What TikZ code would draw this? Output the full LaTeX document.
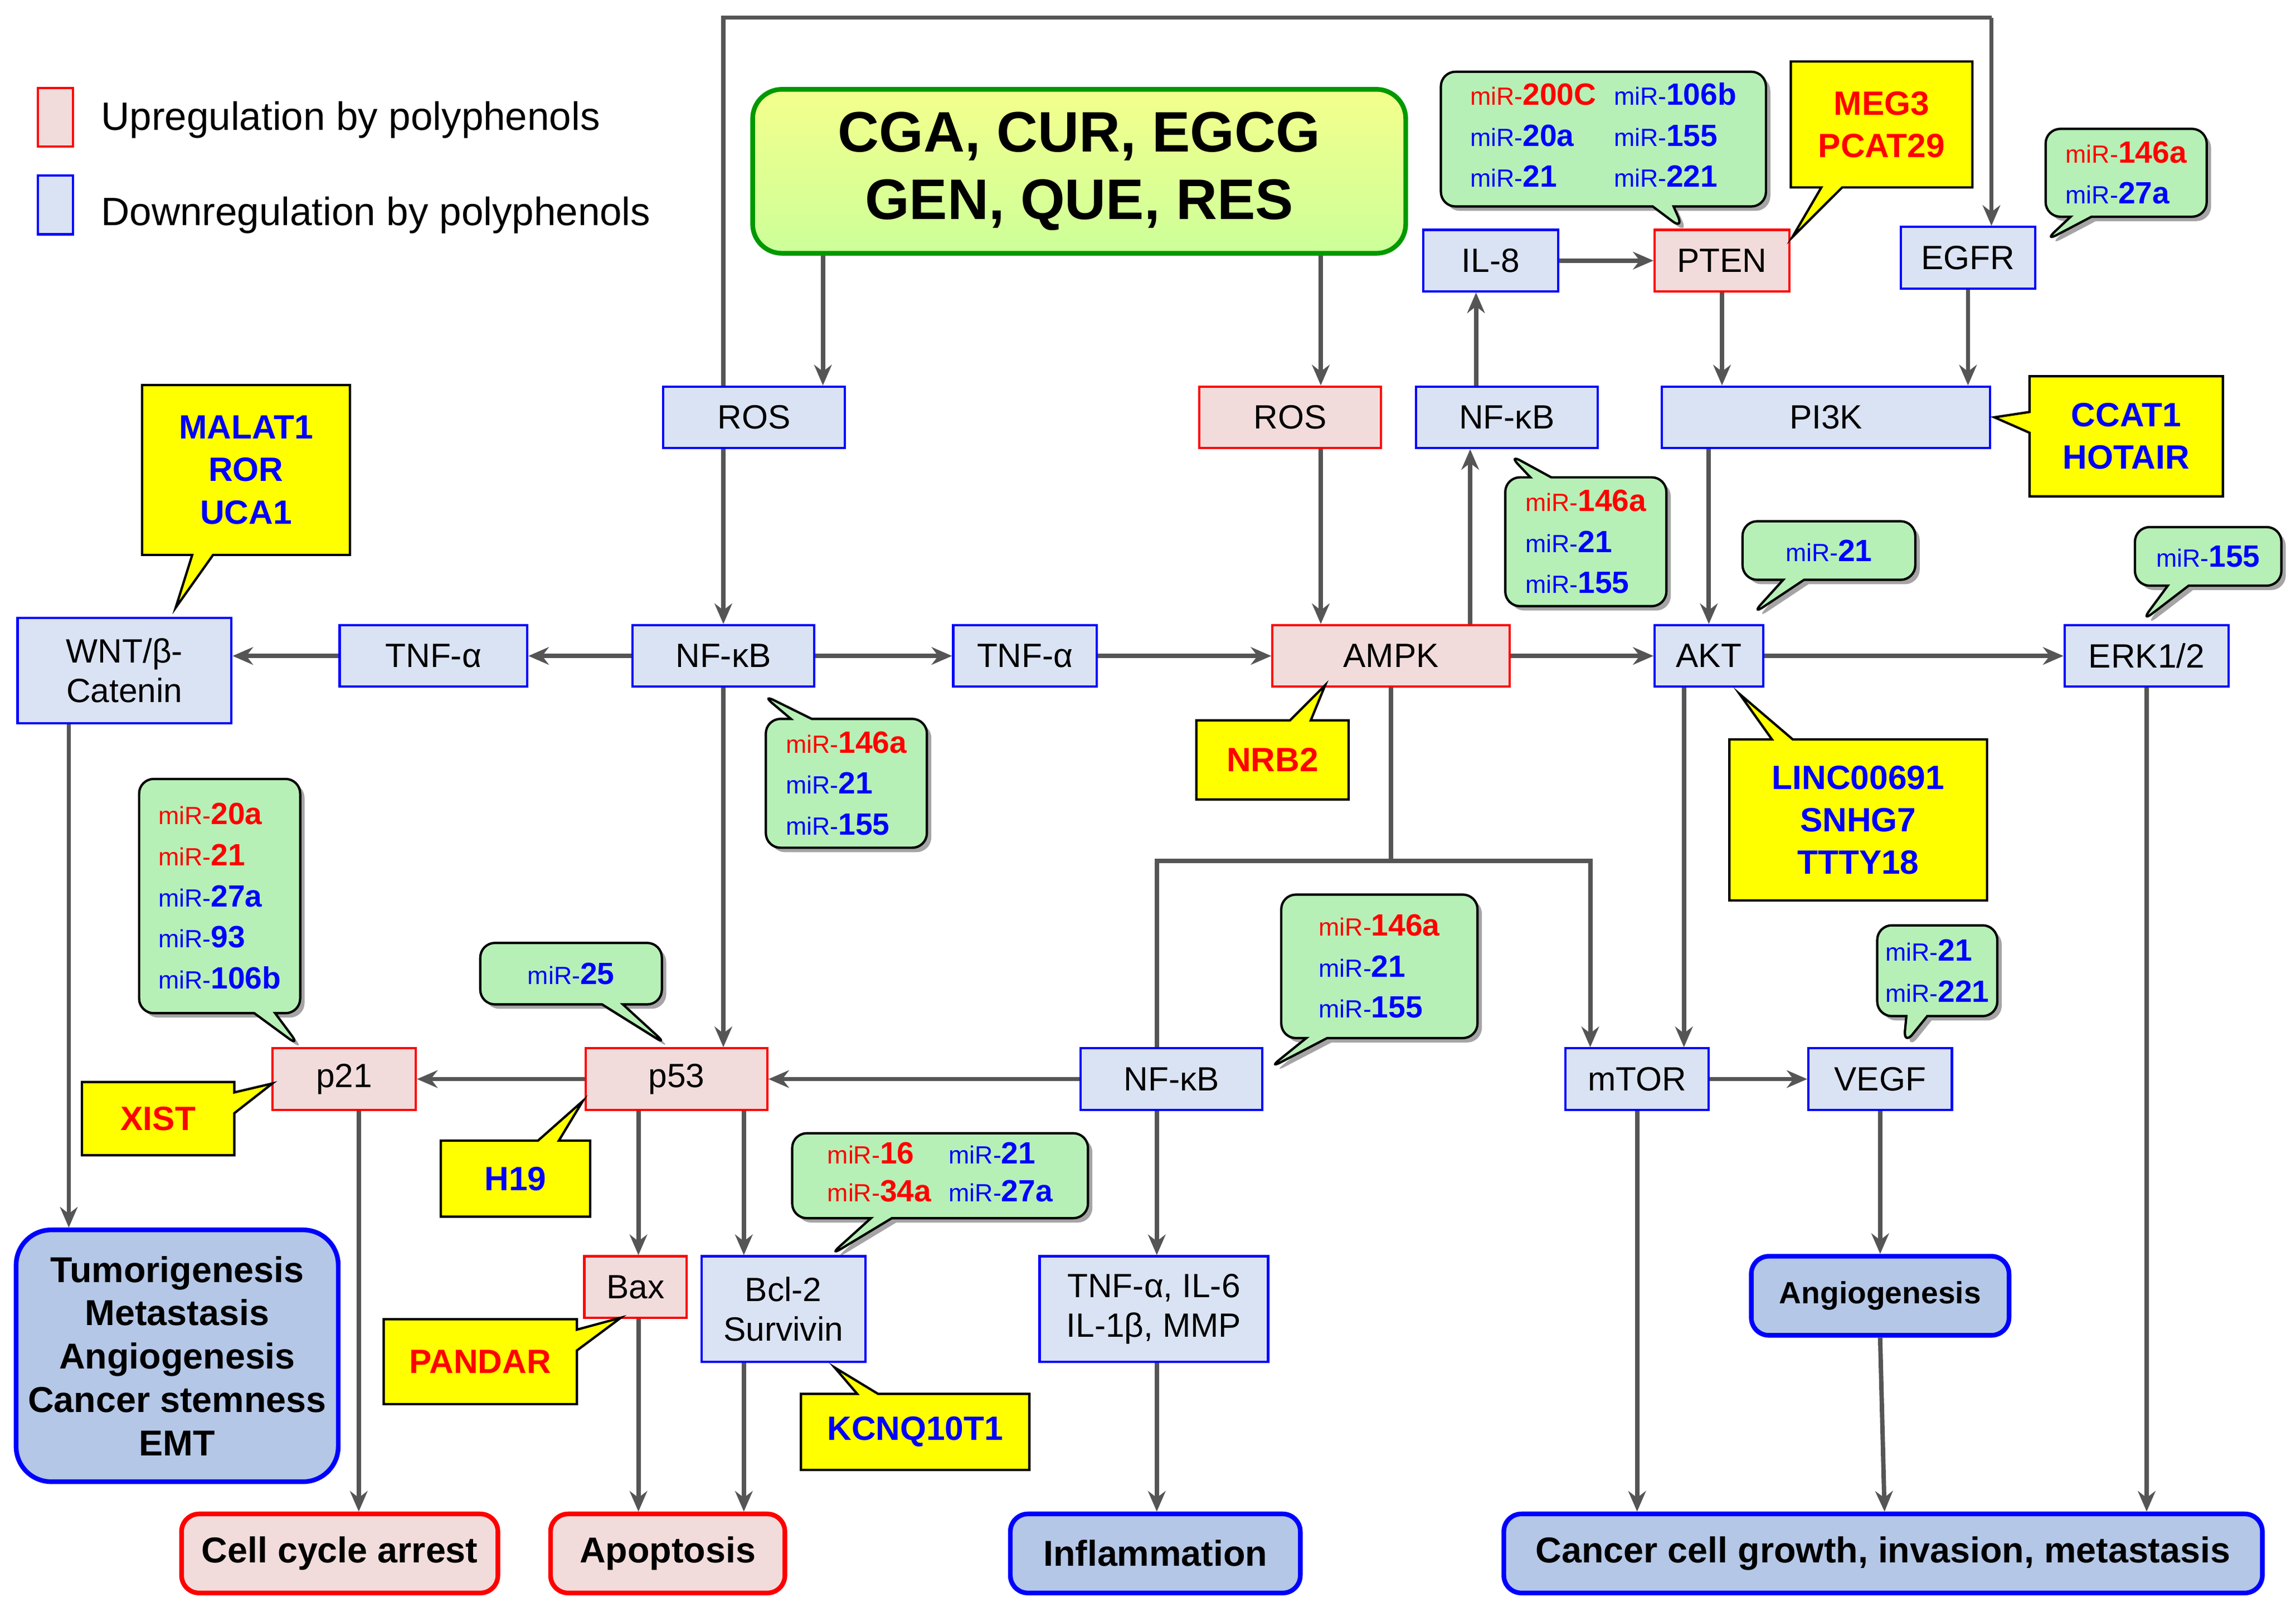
\documentclass[tikz,border=0pt]{standalone}
\usepackage{fontspec}
\setmainfont{Liberation Sans}
\usetikzlibrary{shapes.callouts,shadows,arrows.meta}
\definecolor{bfill}{HTML}{DAE3F3}
\definecolor{rfill}{HTML}{F2DCDB}
\definecolor{ofill}{HTML}{B4C7E7}
\definecolor{gfill}{HTML}{B6F0B6}
\definecolor{yfill}{HTML}{FFFF00}
\definecolor{arr}{HTML}{555555}
\definecolor{mred}{HTML}{FF0000}
\definecolor{mblue}{HTML}{0000FF}
\newcommand{\mr}[2]{{\color{#1}\fontsize{8.5}{10}\selectfont miR-\fontsize{10.5}{12}\selectfont\bfseries #2}}
\begin{document}
\begin{tikzpicture}[x=0.5pt,y=-0.5pt,
 bb/.style={draw=blue,fill=bfill,line width=0.8pt,font=\fontsize{11.5}{13.5}\selectfont,inner sep=1pt,minimum height=21pt,align=center},
 rb/.style={bb,draw=red,fill=rfill},
 ob/.style={draw=blue,fill=ofill,line width=1.6pt,rounded corners=6pt,font=\bfseries\fontsize{12.3}{14.8}\selectfont,minimum height=27pt,align=center},
 orb/.style={ob,draw=red,fill=rfill},
 yc/.style={rectangle callout,draw=black,fill=yfill,line width=0.8pt,font=\bfseries\fontsize{11.5}{14.5}\selectfont,align=center,inner sep=2pt},
 gc/.style={rectangle callout,rounded corners=5pt,draw=black,fill=gfill,line width=0.8pt,align=left,inner sep=2pt,drop shadow={shadow xshift=1.5pt,shadow yshift=-1.5pt,fill=black!70}},
 ar/.style={draw=arr,line width=1.5pt,-{Stealth[length=7pt,width=6pt]}},
 ln/.style={draw=arr,line width=1.5pt}]
\useasboundingbox (0,0) rectangle (1568,1094);
% legend
\node[draw=red,fill=rfill,line width=0.8pt,minimum width=12pt,minimum height=20pt,inner sep=0pt] (lr) at (38,80) {};
\node[anchor=west,font=\fontsize{13.5}{16}\selectfont] (lrt) at (62,82) {Upregulation by polyphenols};
\node[draw=blue,fill=bfill,line width=0.8pt,minimum width=12pt,minimum height=20pt,inner sep=0pt] (lb) at (38,140) {};
\node[anchor=west,font=\fontsize{13.5}{16}\selectfont] (lbt) at (62,147) {Downregulation by polyphenols};
% main box
\node[draw=green!60!black,line width=1.6pt,rounded corners=10pt,top color=green!10!yellow!45,bottom color=green!50!yellow!40,minimum width=223pt,minimum height=56pt,font=\bfseries\fontsize{19.5}{23}\selectfont,align=center] (poly) at (737,117) {CGA, CUR, EGCG\\GEN, QUE, RES};
% nodes
\node[bb,minimum width=62pt] (ros1) at (515,285) {ROS};
\node[rb,minimum width=62pt] (ros2) at (881,285) {ROS};
\node[bb,minimum width=62pt] (nft) at (1029,285) {NF-κB};
\node[bb,minimum width=112pt] (pi3k) at (1247,285) {PI3K};
\node[bb,minimum width=46pt] (il8) at (1018,178) {IL-8};
\node[rb,minimum width=46pt] (pten) at (1176,178) {PTEN};
\node[bb,minimum width=46pt] (egfr) at (1344,176) {EGFR};
\node[bb,minimum width=73pt,minimum height=36pt] (wnt) at (85,458) {WNT/β-\\Catenin};
\node[bb,minimum width=64pt] (tnf1) at (296,448) {TNF-α};
\node[bb,minimum width=62pt] (nfm) at (494,448) {NF-κB};
\node[bb,minimum width=49pt] (tnf2) at (700,448) {TNF-α};
\node[rb,minimum width=81pt] (ampk) at (950,448) {AMPK};
\node[bb,minimum width=37pt] (akt) at (1167,448) {AKT};
\node[bb,minimum width=56pt] (erk) at (1466,448) {ERK1/2};
\node[rb,minimum width=49pt] (p21) at (235,737) {p21};
\node[rb,minimum width=62pt] (p53) at (462,737) {p53};
\node[bb,minimum width=62pt] (nfl) at (800,737) {NF-κB};
\node[bb,minimum width=49pt] (mtor) at (1118,737) {mTOR};
\node[bb,minimum width=49pt] (vegf) at (1284,737) {VEGF};
\node[rb,minimum width=35pt] (bax) at (434,879) {Bax};
\node[bb,minimum width=56pt,minimum height=36pt] (bcl) at (535,894) {Bcl-2\\Survivin};
\node[bb,minimum width=78pt,minimum height=36pt] (cyt) at (788,894) {TNF-α, IL-6\\IL-1β, MMP};
% outcomes
\node[ob,minimum width=110pt,minimum height=86pt,rounded corners=12pt] (tum) at (121,926) {Tumorigenesis\\Metastasis\\Angiogenesis\\Cancer stemness\\EMT};
\node[orb,minimum width=108pt] (cca) at (232,1061) {Cell cycle arrest};
\node[orb,minimum width=80pt] (apo) at (456,1061) {Apoptosis};
\node[ob,minimum width=99pt] (inf) at (789,1061) {Inflammation};
\node[ob,minimum width=259pt] (can) at (1286,1061) {Cancer cell growth, invasion, metastasis};
\node[ob,minimum width=88pt,font=\bfseries\fontsize{10.5}{12}\selectfont] (ang) at (1284,885) {Angiogenesis};
% arrows
\draw[ln] (494,0 |- ros1.north) -- (494,12) -- (1360,12);
\draw[ar] (1360,12) -- (1360,0 |- egfr.north);
\draw[ar] (562,0 |- poly.south) -- (562,0 |- ros1.north);
\draw[ar] (902,0 |- poly.south) -- (902,0 |- ros2.north);
\draw[ar] (494,0 |- ros1.south) -- (494,0 |- nfm.north);
\draw[ar] (902,0 |- ros2.south) -- (902,0 |- ampk.north);
\draw[ar] (1004,0 |- ampk.north) -- (1004,0 |- nft.south);
\draw[ar] (1008,0 |- nft.north) -- (1008,0 |- il8.south);
\draw[ar] (il8) -- (pten);
\draw[ar] (pten.south) -- (1176,0 |- pi3k.north);
\draw[ar] (egfr.south) -- (1344,0 |- pi3k.north);
\draw[ar] (1167,0 |- pi3k.south) -- (akt.north);
\draw[ar] (nfm) -- (tnf1);
\draw[ar] (tnf1) -- (tnf1 -| wnt.east);
\draw[ar] (nfm) -- (tnf2);
\draw[ar] (tnf2) -- (ampk);
\draw[ar] (ampk) -- (akt);
\draw[ar] (akt) -- (erk);
\draw[ar] (47,0 |- wnt.south) -- (47,0 |- tum.north);
\draw[ar] (nfm.south) -- (494,0 |- p53.north);
\draw[ln] (ampk.south) -- (950,588);
\draw[ar] (790,0 |- nfl.north) |- (1086,588) -- (1086,0 |- mtor.north);
\draw[ar] (1150,0 |- akt.south) -- (1150,0 |- mtor.north);
\draw[ar] (nfl) -- (p53);
\draw[ar] (p53) -- (p21);
\draw[ar] (mtor) -- (vegf);
\draw[ar] (245,0 |- p21.south) -- (245,0 |- cca.north);
\draw[ar] (436,0 |- p53.south) -- (436,0 |- bax.north);
\draw[ar] (508,0 |- p53.south) -- (508,0 |- bcl.north);
\draw[ar] (436,0 |- bax.south) -- (436,0 |- apo.north);
\draw[ar] (508,0 |- bcl.south) -- (508,0 |- apo.north);
\draw[ar] (790,0 |- nfl.south) -- (790,0 |- cyt.north);
\draw[ar] (790,0 |- cyt.south) -- (790,0 |- inf.north);
\draw[ar] (1118,0 |- mtor.south) -- (1118,0 |- can.north);
\draw[ar] (vegf.south) -- (ang.north);
\draw[ar] (ang.south) -- (1287,0 |- can.north);
\draw[ar] (erk.south) -- (1466,0 |- can.north);
% yellow callouts
\node[yc,text=mblue,minimum width=71pt,minimum height=58pt,callout absolute pointer={(120,415)}] (y1) at (168,321) {MALAT1\\ROR\\UCA1};
\node[yc,text=mred,minimum width=52pt,minimum height=27pt,callout absolute pointer={(905,468)}] (y2) at (869,519) {NRB2};
\node[yc,text=mblue,minimum width=88pt,minimum height=55pt,callout absolute pointer={(1188,474)}] (y3) at (1269,560) {LINC00691\\SNHG7\\TTTY18};
\node[yc,text=mblue,minimum width=66pt,minimum height=41pt,callout absolute pointer={(1362,285)}] (y4) at (1452,298) {CCAT1\\HOTAIR};
\node[yc,text=mred,minimum width=62pt,minimum height=43pt,callout absolute pointer={(1224,162)}] (y5) at (1285,85) {MEG3\\PCAT29};
\node[yc,text=mred,minimum width=52pt,minimum height=25pt,callout absolute pointer={(186,740)}] (y6) at (108,764) {XIST};
\node[yc,text=mblue,minimum width=51pt,minimum height=26pt,callout absolute pointer={(398,752)}] (y7) at (352,805) {H19};
\node[yc,text=mred,minimum width=66pt,minimum height=29pt,callout absolute pointer={(424,900)}] (y8) at (328,930) {PANDAR};
\node[yc,text=mblue,minimum width=78pt,minimum height=26pt,callout absolute pointer={(570,934)}] (y9) at (625,978) {KCNQ10T1};
% green callouts
\node[gc,minimum width=111pt,minimum height=46pt,callout absolute pointer={(1150,157)}] (g1) at (1095,95) {\begin{tabular}{@{}l@{\hspace{6pt}}l@{}}\mr{mred}{200C}&\mr{mblue}{106b}\\[2pt]\mr{mblue}{20a}&\mr{mblue}{155}\\[2pt]\mr{mblue}{21}&\mr{mblue}{221}\end{tabular}};
\node[gc,minimum width=55pt,minimum height=30pt,callout absolute pointer={(1396,165)}] (g2) at (1452,118) {\mr{mred}{146a}\\[2pt]\mr{mblue}{27a}};
\node[gc,minimum width=55pt,minimum height=44pt,callout absolute pointer={(1030,310)}] (g3) at (1083,370) {\mr{mred}{146a}\\[2pt]\mr{mblue}{21}\\[2pt]\mr{mblue}{155}};
\node[gc,minimum width=59pt,minimum height=20pt,callout absolute pointer={(1196,420)}] (g4) at (1249,376) {\mr{mblue}{21}};
\node[gc,minimum width=50pt,minimum height=20pt,callout absolute pointer={(1462,425)}] (g5) at (1508,380) {\mr{mblue}{155}};
\node[gc,minimum width=55pt,minimum height=44pt,callout absolute pointer={(520,474)}] (g6) at (578,535) {\mr{mred}{146a}\\[2pt]\mr{mblue}{21}\\[2pt]\mr{mblue}{155}};
\node[gc,minimum width=55pt,minimum height=80pt,callout absolute pointer={(205,715)}] (g7) at (150,612) {\mr{mred}{20a}\\[2pt]\mr{mred}{21}\\[2pt]\mr{mblue}{27a}\\[2pt]\mr{mblue}{93}\\[2pt]\mr{mblue}{106b}};
\node[gc,minimum width=62pt,minimum height=21pt,callout absolute pointer={(456,714)}] (g8) at (390,665) {\mr{mblue}{25}};
\node[gc,minimum width=67pt,minimum height=49pt,callout absolute pointer={(866,730)}] (g9) at (942,660) {\mr{mred}{146a}\\[2pt]\mr{mblue}{21}\\[2pt]\mr{mblue}{155}};
\node[gc,minimum width=101pt,minimum height=29pt,callout absolute pointer={(566,858)}] (g10) at (642,803) {\begin{tabular}{@{}l@{\hspace{6pt}}l@{}}\mr{mred}{16}&\mr{mblue}{21}\\[1pt]\mr{mred}{34a}&\mr{mblue}{27a}\end{tabular}};
\node[gc,minimum width=41pt,minimum height=31pt,callout absolute pointer={(1300,714)}] (g11) at (1323,663) {\mr{mblue}{21}\\[2pt]\mr{mblue}{221}};
\end{tikzpicture}
\end{document}
